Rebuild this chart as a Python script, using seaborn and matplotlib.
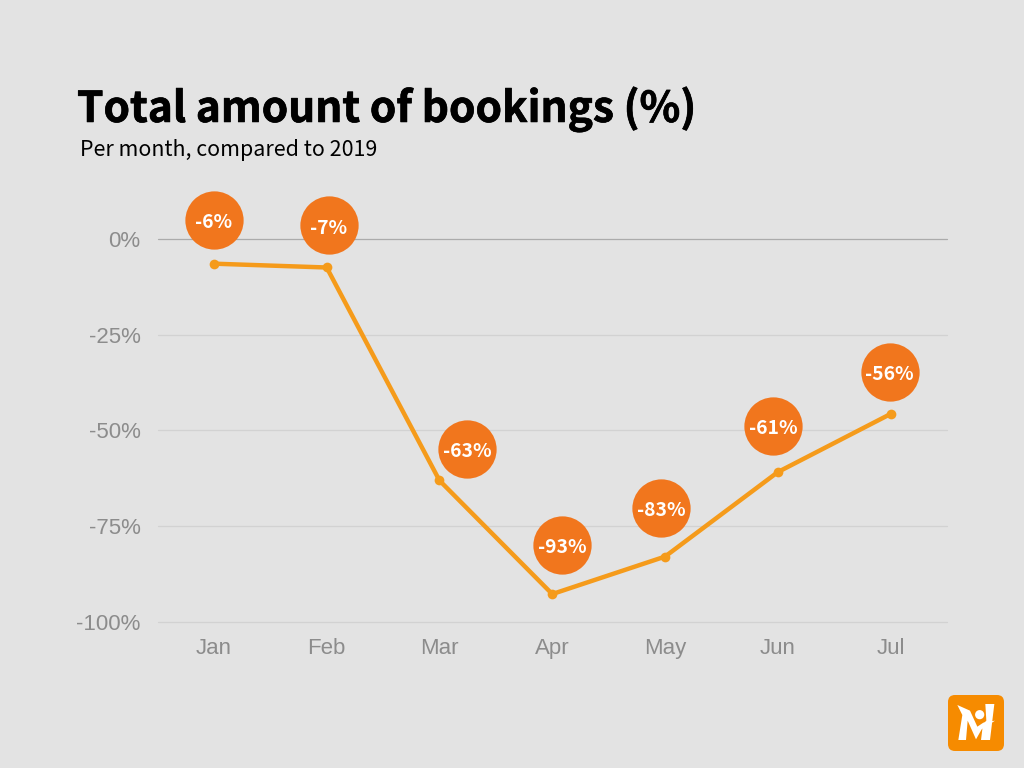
import matplotlib
matplotlib.use('Agg')
import matplotlib.pyplot as plt
import matplotlib.patheffects as pe
from matplotlib.patches import FancyBboxPatch, Polygon, Circle
from matplotlib.transforms import ScaledTranslation
import seaborn as sns
import pandas as pd

months = ['Jan', 'Feb', 'Mar', 'Apr', 'May', 'Jun', 'Jul']
bookings = [-6.4, -7.4, -63.1, -92.8, -83.0, -60.9, -45.7]
bubble_labels = ['-6%', '-7%', '-63%', '-93%', '-83%', '-61%', '-56%']
y_ticks = [0, -25, -50, -75, -100]
y_tick_labels = ['0%', '-25%', '-50%', '-75%', '-100%']

# offset of each bubble from its point, in pixels
bubble_dx = [0, 2, 28, 10, -4, -5, -1]
bubble_dy = [44, 42, 31.5, 49.5, 49, 46.5, 42]

BG = '#E3E3E3'
LINE = '#F59B1B'
BUBBLE = '#F1761D'
LOGO = '#F68B00'
W, H = 1024, 768

sns.set_theme(style='white')
plt.rcParams['font.family'] = ['Noto Sans CJK SC', 'DejaVu Sans']

fig = plt.figure(figsize=(W / 100, H / 100), dpi=100, facecolor=BG)
ax = fig.add_axes([157.5 / W, 1 - 621.6 / H, 789.5 / W, (621.6 - 239.2) / H], facecolor=BG)

df = pd.DataFrame({'month': months, 'bookings': bookings})
sns.lineplot(data=df, x='month', y='bookings', color=LINE, linewidth=3.2, marker='o',
             markersize=7, markeredgewidth=0, clip_on=False, ax=ax, zorder=3)

ax.set_xlim(-0.5, 6.5)
ax.set_ylim(-100, 0)
ax.set_xlabel('')
ax.set_ylabel('')
ax.set_yticks(y_ticks)
ax.set_yticklabels(y_tick_labels)
ax.tick_params(axis='both', length=0, labelsize=16, labelcolor='#8C8C8C')
ax.tick_params(axis='x', pad=11.5)
ax.tick_params(axis='y', pad=12.2)
for lab in ax.get_xticklabels() + ax.get_yticklabels():
    lab.set_fontfamily('Liberation Sans')

# gridlines, the zero line is darker
for t in y_ticks:
    ax.axhline(t, color='#ABABAB' if t == 0 else '#D2D2D2', linewidth=0.9, zorder=1, clip_on=False)
sns.despine(ax=ax, left=True, bottom=True)

# Bubbles with the labels
for i, lab in enumerate(bubble_labels):
    shift = ScaledTranslation(bubble_dx[i] / 100, bubble_dy[i] / 100, fig.dpi_scale_trans)
    ax.scatter([i], [bookings[i]], s=1760, color=BUBBLE, linewidth=0, zorder=4, clip_on=False,
               transform=ax.transData + shift)
    ax.annotate(lab, (i, bookings[i]), xytext=(bubble_dx[i] * 0.72, (bubble_dy[i] - 3) * 0.72),
                textcoords='offset points', ha='center', va='center', color='white',
                fontsize=13.9, fontweight='bold', zorder=5)

# the title font is a heavier cut than the installed bold, so thicken it a little
title = fig.text(77 / W, 1 - 109.5 / H, 'Total amount of bookings (%)', fontsize=30.5, fontweight='black',
                 color='black', ha='left', va='center')
title.set_path_effects([pe.withStroke(linewidth=0.5, foreground='black')])
fig.text(80 / W, 1 - 150 / H, 'Per month, compared to 2019', fontsize=15.4, color='black',
         ha='left', va='center')

# Logo in the corner, drawn in pixel coordinates
overlay = fig.add_axes([0, 0, 1, 1], facecolor='none')
overlay.set_xlim(0, W)
overlay.set_ylim(H, 0)
overlay.axis('off')
overlay.add_patch(FancyBboxPatch((948, 695), 56, 56, boxstyle='round,pad=0,rounding_size=7',
                                 linewidth=0, facecolor=LOGO))


def logo_pt(x, y):
    return (930 + x / 3, 680 + y / 3)


logo_shapes = [
    [(82, 75), (120, 92), (142, 140), (160, 128), (195, 122), (155, 148), (138, 178), (113, 122), (108, 180), (85, 180), (97, 105)],
    [(166, 72), (193, 72), (180, 180), (153, 180), (159, 132), (169, 122)],
]
for shape in logo_shapes:
    overlay.add_patch(Polygon([logo_pt(*p) for p in shape], closed=True, facecolor='white', edgecolor='none'))
overlay.add_patch(Circle(logo_pt(149, 104), 4.6, facecolor='white', edgecolor='none'))

fig.savefig('out.png', dpi=100, facecolor=BG)
